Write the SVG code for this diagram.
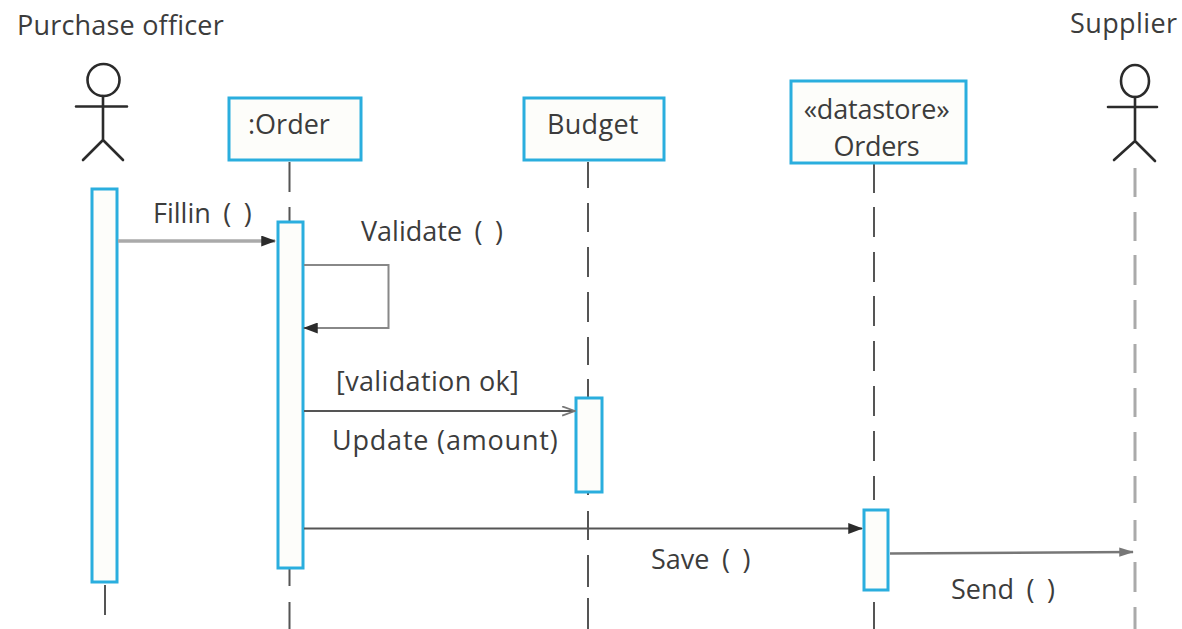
<svg xmlns="http://www.w3.org/2000/svg" width="1182" height="629" viewBox="0 0 1182 629">
<style>
text{font-family:"Open Sans","Noto Sans","Liberation Sans",sans-serif;font-size:27px;fill:#3c3c3c}
.call{word-spacing:5.500px}
.box{fill:#fdfdfa;stroke:#2aaede;stroke-width:3}
.stick{fill:none;stroke:#2b2b2b;stroke-width:2.600;stroke-linecap:round;stroke-linejoin:round}
.life{fill:none;stroke:#555;stroke-width:2}
.msg{fill:none;stroke:#555;stroke-width:2}
</style>
<defs>
<marker id="solid" viewBox="0 0 16 12" refX="15" refY="6" markerWidth="15" markerHeight="11" markerUnits="userSpaceOnUse" orient="auto"><path d="M0 0L16 6L0 12Z" fill="#2b2b2b"/></marker>
<marker id="open" viewBox="0 0 16 12" refX="15" refY="6" markerWidth="15" markerHeight="11" markerUnits="userSpaceOnUse" orient="auto"><path d="M1 1L15 6L1 11" fill="none" stroke="#777" stroke-width="2"/></marker>
<marker id="grey" viewBox="0 0 16 12" refX="15" refY="6" markerWidth="15" markerHeight="11" markerUnits="userSpaceOnUse" orient="auto"><path d="M0 1L16 6L0 11Z" fill="#777"/></marker>
</defs>
<g id="lifelines">
<path class="life" d="M105 585V615"/>
<path class="life" d="M289.500 162V192M289.500 207V222M289.500 568V586M289.500 602V629"/>
<path class="life" d="M588 162V188M588 203V232M588 247V277M588 292V322M588 337V365M588 379V398M588 492V495M588 511V540M588 555V587M588 598V629"/>
<path class="life" d="M874 163V193M874 207V237M874 252V282M874 296V326M874 341V371M874 386V416M874 431V461M874 476V500M874 602V629"/>
<path class="life" d="M1135 168V197M1135 212V241M1135 255V285M1135 300V329M1135 344V373M1135 388V417M1135 432V461M1135 476V503M1135 520V541M1135 562V592M1135 607V629" style="stroke:#aaa;stroke-width:3"/>
</g>
<g id="purchase-officer">
<text x="17" y="35" style="letter-spacing:.2px">Purchase officer</text>
<circle class="stick" cx="103.500" cy="80" r="16"/>
<path class="stick" d="M76 106.500H127M103 96V140M83 160L103 140L123 160"/>
<rect class="box" x="92" y="189" width="25" height="393"/>
</g>
<g id="order">
<rect class="box" x="229" y="98" width="132" height="62"/>
<text x="248" y="134">:Order</text>
<rect class="box" x="278" y="222" width="25" height="346"/>
</g>
<g id="budget">
<rect class="box" x="524" y="98" width="140" height="62"/>
<text x="547" y="134" style="letter-spacing:.3px">Budget</text>
<rect class="box" x="576" y="398" width="26" height="94"/>
</g>
<g id="orders">
<rect class="box" x="791" y="81" width="175" height="82"/>
<text x="876.500" y="119" text-anchor="middle" style="letter-spacing:-.2px">«datastore»</text>
<text x="876.500" y="156" text-anchor="middle" style="letter-spacing:-.3px">Orders</text>
<rect class="box" x="864" y="510" width="24" height="80"/>
</g>
<g id="supplier">
<text x="1070" y="33" style="letter-spacing:.4px">Supplier</text>
<ellipse class="stick" cx="1135" cy="81" rx="14" ry="16"/>
<path class="stick" d="M1108 107H1157M1135 97V140M1114 160L1135 141L1155 161"/>
</g>
<g id="connectors">
<path class="msg" d="M118 241H275" marker-end="url(#solid)" style="stroke:#aaa;stroke-width:3.500"/>
<path class="msg" d="M304 265H388.500V328H304" marker-end="url(#solid)" style="stroke:#888"/>
<path class="msg" d="M304 411H575" marker-end="url(#open)"/>
<path class="msg" d="M304 528.500H862" marker-end="url(#solid)"/>
<path class="msg" d="M890 553.500L1133 552" marker-end="url(#grey)" style="stroke:#777;stroke-width:2.500"/>
</g>
<g id="labels">
<text class="call" x="153" y="223">Fillin ( )</text>
<text class="call" x="361" y="241">Validate ( )</text>
<text x="336" y="391" style="letter-spacing:.35px">[validation ok]</text>
<text x="332" y="450" style="letter-spacing:.8px">Update (amount)</text>
<text class="call" x="651" y="569">Save ( )</text>
<text class="call" x="951" y="599">Send ( )</text>
</g>
</svg>
